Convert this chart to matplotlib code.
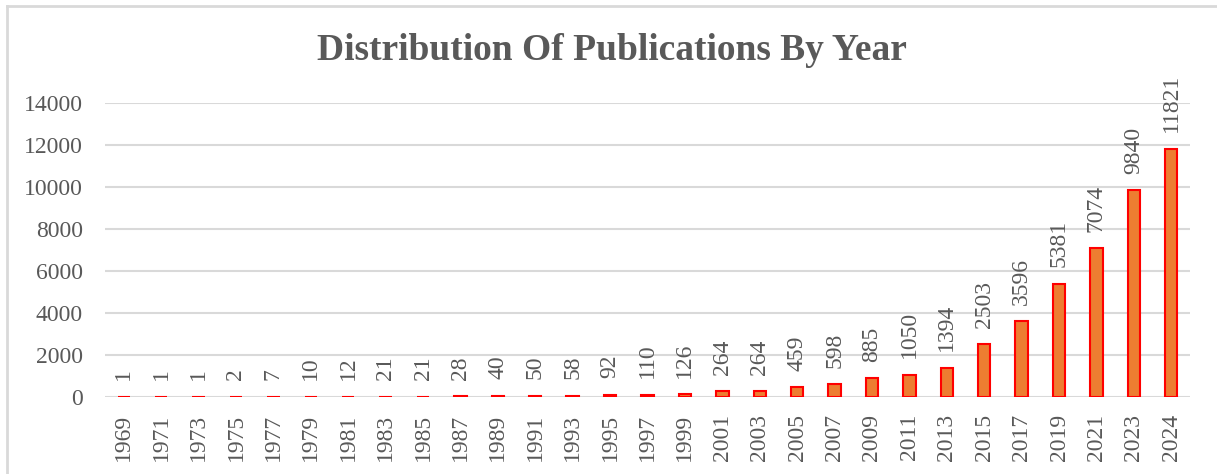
import matplotlib.pyplot as plt
from matplotlib.lines import Line2D

# publications per year
years = ['1969', '1971', '1973', '1975', '1977', '1979', '1981', '1983', '1985', '1987',
         '1989', '1991', '1993', '1995', '1997', '1999', '2001', '2003', '2005', '2007',
         '2009', '2011', '2013', '2015', '2017', '2019', '2021', '2023', '2024']
counts = [1, 1, 1, 2, 7, 10, 12, 21, 21, 28,
          40, 50, 58, 92, 110, 126, 264, 264, 459, 598,
          885, 1050, 1394, 2503, 3596, 5381, 7074, 9840, 11821]
yticks = [0, 2000, 4000, 6000, 8000, 10000, 12000, 14000]

TEXT = '#595959'
GRID = '#D9D9D9'
plt.rcParams['font.family'] = ['Liberation Serif', 'DejaVu Serif']

fig = plt.figure(figsize=(12.17, 4.74), dpi=100)
ax = fig.add_axes([105 / 1217, 1 - 397 / 474, 1085 / 1217, 294 / 474])

x = list(range(len(years)))
bars = ax.bar(x, counts, width=0.33, color='#ED7D31', edgecolor='#FF0000',
              linewidth=1.5, zorder=3)
for xi, v in zip(x, counts):
    ax.annotate(str(v), (xi, v), xytext=(0, 12), textcoords='offset points',
                rotation=90, ha='center', va='bottom', fontsize=17,
                color=TEXT, annotation_clip=False)

ax.set_xlim(-0.5, len(years) - 0.5)
ax.set_ylim(0, 14000)
ax.set_yticks(yticks)
ax.set_yticklabels([str(t) for t in yticks], fontsize=17, color=TEXT)
ax.set_xticks(x)
ax.set_xticklabels(years, rotation=90, fontsize=17, color=TEXT)
ax.tick_params(length=0)
ax.tick_params(axis='y', pad=16)
ax.tick_params(axis='x', pad=12)
ax.grid(axis='y', color=GRID, linewidth=1.5, zorder=0)
ax.set_axisbelow(True)
for s in ax.spines.values():
    s.set_visible(False)

fig.text(612 / 1217, 1 - 50 / 474, 'Distribution Of Publications By Year',
         ha='center', va='center', fontsize=27, fontweight='bold', color=TEXT)

# chart-area frame
fig.add_artist(Line2D([7 / 1217, 7 / 1217], [0, 1 - 6 / 474], color=GRID, linewidth=2))
fig.add_artist(Line2D([7 / 1217, 1], [1 - 6 / 474, 1 - 6 / 474], color=GRID, linewidth=2))

fig.savefig('out.png', dpi=100)
